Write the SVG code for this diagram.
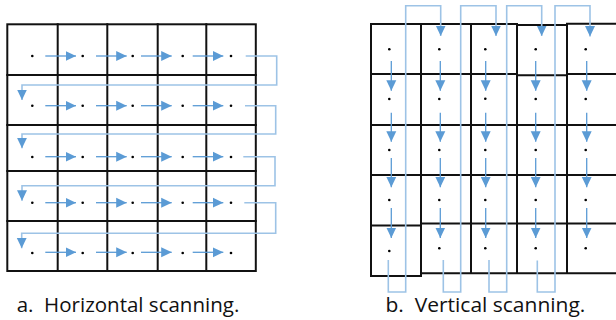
<svg xmlns="http://www.w3.org/2000/svg" width="616" height="320" viewBox="0 0 616 320">
<style>
.grid{stroke:#111;stroke-width:2;fill:none;stroke-linecap:square}
.arr{stroke:#5B9BD5;stroke-width:1.3;fill:none}
.u{stroke:#9DC3E6;stroke-width:1.6;fill:none}
.dot{fill:#000}
.lbl{font-family:"Open Sans","Noto Sans",sans-serif;font-size:20px;fill:#111;white-space:pre}
</style>
<defs>
<marker id="ah" markerUnits="userSpaceOnUse" markerWidth="11" markerHeight="11" refX="10.5" refY="5" orient="auto" viewBox="0 0 11 10">
<path d="M0,0 L10.5,5 L0,10 z" fill="#5B9BD5"/>
</marker>
</defs>
<rect width="616" height="320" fill="#fff"/>

<g id="gridA">
<rect class="grid" x="7.3" y="24.3" width="248.5" height="246.7"/>
<path class="grid" d="M57.7,24.3V271 M107.3,24.3V271 M157.7,24.3V271 M206.3,24.3V271 M7.3,75H255.8 M7.3,125H255.8 M7.3,171H255.8 M7.3,221H255.8"/>
</g>

<g id="dotsA" class="dot">
<circle cx="32.3" cy="56" r="1.3"/><circle cx="82.7" cy="56" r="1.3"/><circle cx="132.7" cy="56" r="1.3"/><circle cx="182.7" cy="56" r="1.3"/><circle cx="231" cy="56" r="1.3"/>
<circle cx="32.3" cy="105.7" r="1.3"/><circle cx="82.7" cy="105.7" r="1.3"/><circle cx="132.7" cy="105.7" r="1.3"/><circle cx="182.7" cy="105.7" r="1.3"/><circle cx="231" cy="105.7" r="1.3"/>
<circle cx="32.3" cy="157" r="1.3"/><circle cx="82.7" cy="157" r="1.3"/><circle cx="132.7" cy="157" r="1.3"/><circle cx="182.7" cy="157" r="1.3"/><circle cx="231" cy="157" r="1.3"/>
<circle cx="32.3" cy="202.7" r="1.3"/><circle cx="82.7" cy="202.7" r="1.3"/><circle cx="132.7" cy="202.7" r="1.3"/><circle cx="182.7" cy="202.7" r="1.3"/><circle cx="231" cy="202.7" r="1.3"/>
<circle cx="32.3" cy="253" r="1.3"/><circle cx="82.7" cy="253" r="1.3"/><circle cx="132.7" cy="253" r="1.3"/><circle cx="182.7" cy="253" r="1.3"/><circle cx="231" cy="253" r="1.3"/>
</g>

<g id="gridB">
<path class="grid" d="M371,24V276 M421,24V276 M471,24V273.3 M517,25V273.3 M567,23.7V273.3
M371,24H517 M517,25H567 M567,23.7H616
M371,74H517 M517,75.3H567 M567,74H616
M371,125H616 M371,175H616
M371,225.5H421 M421,223.5H616
M371,276H421 M421,273.3H616"/>
</g>

<g id="dotsB" class="dot">
<circle cx="389.3" cy="49.3" r="1.3"/><circle cx="439.3" cy="49.3" r="1.3"/><circle cx="485.3" cy="49.3" r="1.3"/><circle cx="535.7" cy="49.3" r="1.3"/><circle cx="585.7" cy="49.3" r="1.3"/>
<circle cx="389.3" cy="99" r="1.3"/><circle cx="439.3" cy="99" r="1.3"/><circle cx="485.3" cy="98.7" r="1.3"/><circle cx="535.7" cy="99" r="1.3"/><circle cx="585.7" cy="99" r="1.3"/>
<circle cx="389.3" cy="150" r="1.3"/><circle cx="439.3" cy="150" r="1.3"/><circle cx="485.3" cy="150" r="1.3"/><circle cx="535.7" cy="150" r="1.3"/><circle cx="585.7" cy="150" r="1.3"/>
<circle cx="389.3" cy="200" r="1.3"/><circle cx="439.3" cy="200" r="1.3"/><circle cx="485.3" cy="200" r="1.3"/><circle cx="535.7" cy="200" r="1.3"/><circle cx="585.7" cy="200" r="1.3"/>
<circle cx="389.3" cy="251" r="1.3"/><circle cx="439.3" cy="248.3" r="1.3"/><circle cx="485.3" cy="248.3" r="1.3"/><circle cx="535.7" cy="248.3" r="1.3"/><circle cx="585.7" cy="248.3" r="1.3"/>
</g>

<g id="connectors">
<g class="arr" marker-end="url(#ah)">
<path d="M45.3,56H76"/><path d="M96,56H126.7"/><path d="M141,56H171.7"/><path d="M192.7,56H223.3"/>
<path d="M45.3,105.7H76"/><path d="M96,105.7H126.7"/><path d="M141,105.7H171.7"/><path d="M192.7,105.7H223.3"/>
<path d="M45.3,156.7H76"/><path d="M96,156.7H126.7"/><path d="M141,156.7H171.7"/><path d="M192.7,156.7H223.3"/>
<path d="M45.3,202.7H76"/><path d="M96,202.7H126.7"/><path d="M141,202.7H171.7"/><path d="M192.7,202.7H223.3"/>
<path d="M45.3,252.3H76"/><path d="M96,252.3H126.7"/><path d="M141,252.3H171.7"/><path d="M192.7,252.3H223.3"/>
</g>
<g class="u" marker-end="url(#ah)">
<path d="M245.7,56H276.7V85H22V100"/>
<path d="M245,105.7H275.7V134H22V148.3"/>
<path d="M243.3,156.7H275V185.7H22V200.7"/>
<path d="M244.3,202.7H275.7V233.3H21.7V248.3"/>
</g>
<g class="arr" marker-end="url(#ah)">
<path d="M391.3,61V90.7"/><path d="M391.3,112.7V141.7"/><path d="M391.3,158V187.3"/><path d="M391.3,208V238"/>
<path d="M440.3,61V90.7"/><path d="M440.3,112.7V141.7"/><path d="M440.3,158V187.3"/><path d="M440.3,208V238"/>
<path d="M485.7,61V90.7"/><path d="M485.7,112.7V141.7"/><path d="M485.7,158V187.3"/><path d="M485.7,208V238"/>
<path d="M535.7,61V90.7"/><path d="M535.7,112.7V141.7"/><path d="M535.7,158V187.3"/><path d="M535.7,208V238"/>
<path d="M586.7,61V90.7"/><path d="M586.7,112.7V141.7"/><path d="M586.7,158V187.3"/><path d="M586.7,208V238"/>
</g>
<g class="u" marker-end="url(#ah)">
<path d="M388.3,260V292H405.7V5.7H440.7V36"/>
<path d="M443.3,260V292H460.7V5.7H496V36"/>
<path d="M489,260V292H506.7V5.7H541.7V36"/>
<path d="M537.3,260.5V292H555V5.7H590V36.5"/>
</g>
</g>

<g id="labels">
<text class="lbl" x="16.7" y="312" textLength="222.6" lengthAdjust="spacingAndGlyphs">a.  Horizontal scanning.</text>
<text class="lbl" x="385.4" y="312" textLength="200" lengthAdjust="spacingAndGlyphs">b.  Vertical scanning.</text>
</g>
</svg>
